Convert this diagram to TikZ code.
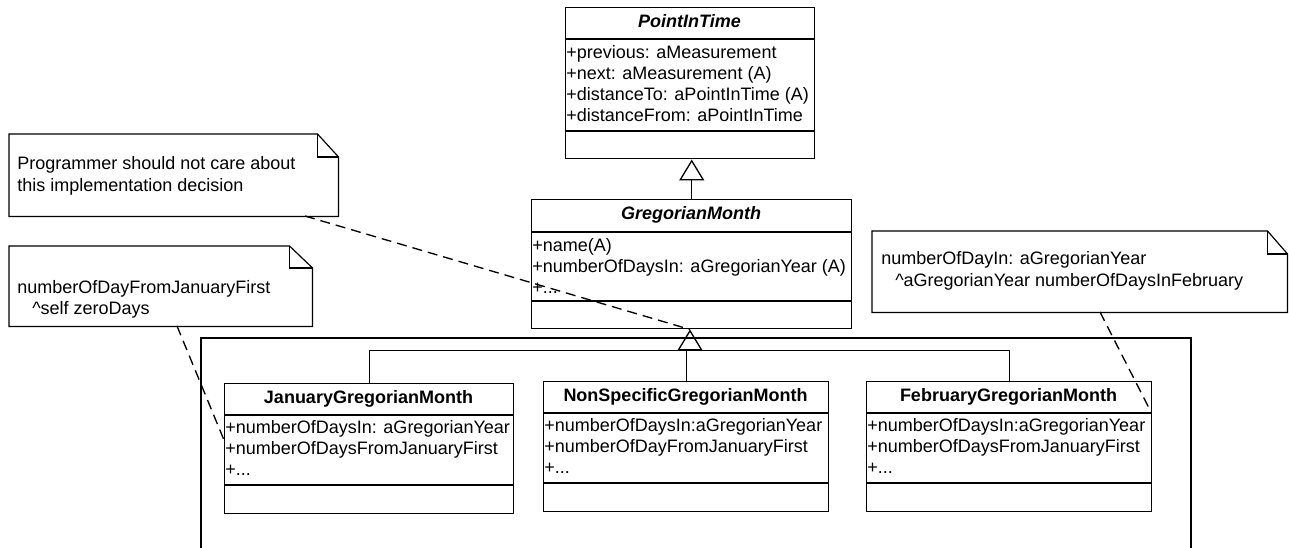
\documentclass[tikz,border=0pt]{standalone}
\usepackage{fontspec}
\setmainfont{Liberation Sans}
\usetikzlibrary{arrows.meta}
\begin{document}
\begin{tikzpicture}[x=0.75pt,y=-0.75pt,
  classbox/.style={draw, line width=1.1pt, fill=white, inner sep=0pt, anchor=north west},
  sepline/.style={line width=1.1pt},
  attr/.style={font=\fontsize{13.5pt}{16pt}\selectfont, inner sep=0pt, anchor=base west},
  cname/.style={font=\fontsize{13.5pt}{16pt}\selectfont\bfseries, inner sep=0pt, anchor=base},
  aname/.style={cname, font=\fontsize{13.5pt}{16pt}\selectfont\bfseries\itshape},
  notearea/.style={inner sep=0pt, anchor=north west},
  noteline/.style={line width=0.9pt, line join=miter},
  notetext/.style={font=\fontsize{13.5pt}{16pt}\selectfont, inner sep=0pt, anchor=base west},
  conn/.style={line width=0.75pt},
  gen/.style={conn, -{Triangle[open, length=15.75pt, width=18.75pt, line width=1pt]}},
  notelink/.style={line width=1pt, dash pattern=on 7.5pt off 4.5pt},
  frameline/.style={line width=1.1pt}]
\useasboundingbox (0,0) rectangle (1289,548);

% enclosing frame, open at the bottom
\draw[frameline] (201,548) -- (201,338) -- (1191,338) -- (1191,548);

% PointInTime
\node[classbox, minimum width=249*0.75pt, minimum height=151*0.75pt] (pit) at (565,7) {};
\draw[sepline] (565,39) -- (814,39);
\draw[sepline] (565,131) -- (814,131);
\node[aname] (pitN) at (689.5,28) {PointInTime};
\node[attr] (pitA1) at (566,58.5) {+previous: aMeasurement};
\node[attr] (pitA2) at (566,79.5) {+next: aMeasurement (A)};
\node[attr] (pitA3) at (566,100.5) {+distanceTo: aPointInTime (A)};
\node[attr] (pitA4) at (566,121.5) {+distanceFrom: aPointInTime};

% GregorianMonth
\node[classbox, minimum width=320*0.75pt, minimum height=129*0.75pt] (gm) at (531,199) {};
\draw[sepline] (531,232) -- (851,232);
\draw[sepline] (531,301) -- (851,301);
\node[aname] (gmN) at (691,219.5) {GregorianMonth};
\node[attr] (gmA1) at (532,251.5) {+name(A)};
\node[attr] (gmA2) at (532,272.5) {+numberOfDaysIn: aGregorianYear (A)};
\node[attr] (gmA3) at (532,293.5) {+...};

% JanuaryGregorianMonth
\node[classbox, minimum width=289*0.75pt, minimum height=130*0.75pt] (jan) at (224,383) {};
\draw[sepline] (224,415) -- (513,415);
\draw[sepline] (224,485) -- (513,485);
\node[cname] (janN) at (368.5,404) {JanuaryGregorianMonth};
\node[attr] (janA1) at (225,434) {+numberOfDaysIn: aGregorianYear};
\node[attr] (janA2) at (225,455) {+numberOfDaysFromJanuaryFirst};
\node[attr] (janA3) at (225,476) {+...};

% NonSpecificGregorianMonth
\node[classbox, minimum width=285*0.75pt, minimum height=130*0.75pt] (nsp) at (543,381) {};
\draw[sepline] (543,413) -- (828,413);
\draw[sepline] (543,483) -- (828,483);
\node[cname] (nspN) at (685.5,402) {NonSpecificGregorianMonth};
\node[attr] (nspA1) at (544,432) {+numberOfDaysIn:aGregorianYear};
\node[attr] (nspA2) at (544,453) {+numberOfDayFromJanuaryFirst};
\node[attr] (nspA3) at (544,474) {+...};

% FebruaryGregorianMonth
\node[classbox, minimum width=285*0.75pt, minimum height=130*0.75pt] (feb) at (866,381) {};
\draw[sepline] (866,413) -- (1151,413);
\draw[sepline] (866,483) -- (1151,483);
\node[cname] (febN) at (1008.5,402) {FebruaryGregorianMonth};
\node[attr] (febA1) at (867,432) {+numberOfDaysIn:aGregorianYear};
\node[attr] (febA2) at (867,453) {+numberOfDaysFromJanuaryFirst};
\node[attr] (febA3) at (867,474) {+...};

% generalisations
\draw[gen] (gm.north) -- (gm.north |- pit.south);
\coordinate (bus) at (690,351);
\draw[conn] (jan.north) |- (feb.north |- bus) -- (feb.north);
\draw[conn] (nsp.north) -- (nsp.north |- bus);
\draw[gen] (bus) -- (bus |- gm.south);

% notes
\node[notearea, minimum width=329*0.75pt, minimum height=82*0.75pt] (n1) at (9,134) {};
\draw[noteline] (n1.north west) -- ([xshift=-15.75pt]n1.north east) -- ([yshift=-17.25pt]n1.north east) -- (n1.south east) -- (n1.south west) -- cycle;
\draw[noteline] ([xshift=-15.75pt]n1.north east) |- ([yshift=-17.25pt]n1.north east);
\node[notetext] (n1t1) at (17,170) {Programmer should not care about};
\node[notetext] (n1t2) at (17,192) {this implementation decision};

\node[notearea, minimum width=303*0.75pt, minimum height=80*0.75pt] (n2) at (9,246) {};
\draw[noteline] (n2.north west) -- ([xshift=-17.25pt]n2.north east) -- ([yshift=-16.5pt]n2.north east) -- (n2.south east) -- (n2.south west) -- cycle;
\draw[noteline] ([xshift=-17.25pt]n2.north east) |- ([yshift=-16.5pt]n2.north east);
\node[notetext] (n2t1) at (17,294) {numberOfDayFromJanuaryFirst};
\node[notetext] (n2t2) at (32,315) {\textasciicircum self zeroDays};

\node[notearea, minimum width=415*0.75pt, minimum height=81*0.75pt] (n3) at (872,231) {};
\draw[noteline] (n3.north west) -- ([xshift=-15pt]n3.north east) -- ([yshift=-17.25pt]n3.north east) -- (n3.south east) -- (n3.south west) -- cycle;
\draw[noteline] ([xshift=-15pt]n3.north east) |- ([yshift=-17.25pt]n3.north east);
\node[notetext] (n3t1) at (881,265) {numberOfDayIn: aGregorianYear};
\node[notetext] (n3t2) at (895,287) {\textasciicircum aGregorianYear numberOfDaysInFebruary};

% note attachments
\coordinate (n1a) at (305,216);
\coordinate (n2a) at (177,326);
\coordinate (jana) at (224,440);
\coordinate (n3a) at (1100,312);
\coordinate (feba) at (1151,412);
\draw[notelink] (n1a) -- (bus |- gm.south);
\draw[notelink] (n2a) -- (jana);
\draw[notelink] (n3a) -- (feba);
\end{tikzpicture}
\end{document}
